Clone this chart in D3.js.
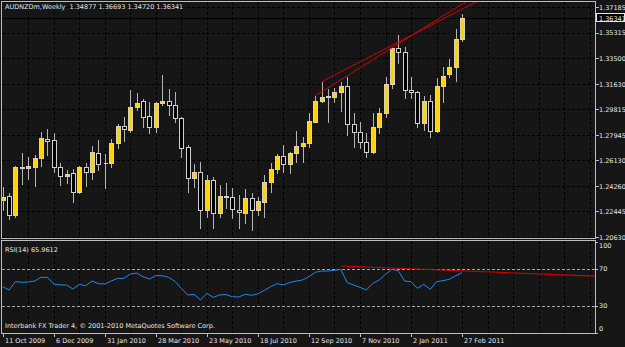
<!DOCTYPE html>
<html><head><meta charset="utf-8">
<script src="https://cdn.jsdelivr.net/npm/d3@7"></script>
<style>
html,body{margin:0;padding:0;background:#161616;overflow:hidden;}
svg{display:block;}
text{font-family:"DejaVu Sans",sans-serif;font-size:6.5px;fill:#e6e6e6;white-space:pre;}
</style></head><body>
<svg id="c" width="625" height="347"></svg>
<script>
// ---------- data ----------
const titleText = "AUDNZDm,Weekly  1.34877 1.36693 1.34720 1.36341";
const rsiTitle = "RSI(14) 65.9612";
const copyright = "Interbank FX Trader 4, \u00A9 2001-2010 MetaQuotes Software Corp.";

const open = [1.23272,1.2356,1.22192,1.25611,1.25575,1.25625,1.26316,1.27662,1.2759,1.25625,
1.25021,1.25193,1.23869,1.25669,1.25309,1.26676,1.25956,1.25956,1.27353,1.28598,
1.2831,1.29944,1.30398,1.29318,1.28505,1.30232,1.30376,1.3011,1.29196,1.27065,
1.24834,1.25309,1.22552,1.24711,1.22357,1.2356,1.23509,1.22552,1.22314,1.23437,
1.22552,1.23149,1.24546,1.25481,1.26439,1.25841,1.26633,1.27158,1.27353,1.28908,
1.30419,1.30736,1.30707,1.31067,1.31499,1.28742,1.28188,1.27468,1.26748,1.28505,
1.29555,1.31621,1.34191,1.33903,1.31225,1.31045,1.28792,1.30398,1.28238,1.31477,
1.32305,1.32823,1.34877];
const high = [1.24229,1.23754,1.25719,1.26676,1.26388,1.26511,1.28188,1.28361,1.28116,1.25956,
1.25431,1.25481,1.25719,1.25913,1.27158,1.2759,1.26561,1.27641,1.28742,1.29224,
1.31189,1.30995,1.3052,1.30347,1.30347,1.32269,1.3124,1.31067,1.29267,1.27231,
1.25863,1.26028,1.25071,1.24906,1.24351,1.24474,1.24114,1.23632,1.24042,1.23754,
1.23466,1.25071,1.25956,1.26583,1.27231,1.26748,1.2826,1.27785,1.29534,1.30758,
1.31787,1.3124,1.31312,1.31787,1.32147,1.29555,1.28908,1.28073,1.29512,1.29872,
1.32104,1.34263,1.35148,1.34285,1.32104,1.31117,1.30793,1.3083,1.32032,1.32809,
1.33399,1.35558,1.36693];
const low = [1.22552,1.21882,1.2207,1.24423,1.24762,1.24279,1.25719,1.26511,1.25309,1.24351,
1.24474,1.23149,1.23797,1.24279,1.24762,1.25431,1.24114,1.25625,1.26993,1.2754,
1.28188,1.2975,1.28548,1.28116,1.28188,1.3011,1.2939,1.28908,1.26388,1.23869,
1.24229,1.21235,1.2207,1.21235,1.22026,1.22674,1.21954,1.21235,1.21595,1.21112,
1.22192,1.22026,1.23869,1.25193,1.25265,1.25193,1.26028,1.26028,1.27051,1.2888,
1.30347,1.28908,1.30347,1.29699,1.2795,1.27065,1.26993,1.26388,1.26676,1.28116,
1.29224,1.31312,1.33111,1.30592,1.30592,1.28505,1.2831,1.27785,1.28188,1.30347,
1.32104,1.31837,1.3472];
const close = [1.23509,1.22192,1.25669,1.25539,1.25719,1.26273,1.27713,1.2754,1.25625,1.24999,
1.25143,1.23869,1.25669,1.25309,1.26748,1.25863,1.25913,1.27353,1.28598,1.28361,
1.29944,1.30275,1.29267,1.28505,1.30275,1.30376,1.30088,1.29152,1.26993,1.24834,
1.25309,1.22552,1.24711,1.22357,1.2356,1.23466,1.22602,1.22386,1.23437,1.22552,
1.232,1.24546,1.25503,1.2646,1.25841,1.26633,1.27158,1.27375,1.28922,1.30419,
1.30707,1.30686,1.31067,1.31499,1.28742,1.28188,1.27468,1.26748,1.28548,1.29555,
1.31621,1.34191,1.33903,1.31168,1.31024,1.28792,1.30398,1.28238,1.31477,1.32197,
1.32859,1.34839,1.36341];
const rsi = [50.7,47.1,56.2,55.5,55.8,56.9,60.9,60.9,53.7,52.6,
52.6,48.2,53.3,51.8,56.9,54.0,53.7,56.9,59.8,59.8,
64.6,65.6,61.6,59.1,62.7,62.7,60.9,56.6,48.9,41.7,
42.4,36.2,43.5,39.1,41.7,42.1,39.8,39.5,42.4,41.3,
43.1,46.7,50.7,54.0,52.6,55.3,56.8,58.0,61.6,66.4,
67.8,67.8,68.6,69.6,55.1,52.6,50.0,47.1,54.4,58.0,
64.2,69.6,68.2,56.9,56.2,48.9,53.3,47.8,56.2,57.3,
58.7,62.7,65.9612];

// trend lines: [bar index, value] anchor pairs (rays extended to the right)
const trendA = [[49, 1.3078], [72, 1.3738]];
const trendB = [[50, 1.31787], [72, 1.37012]];
const rsiTrend = [[53, 73.3], [72, 68.0]];

const priceTicks = [1.37185,1.35315,1.33500,1.31630,1.29815,1.27945,1.26130,1.24260,1.22445,1.20630];
const rsiTicks = [100,70,30,0];
const rsiLevels = [70,30];
const dateTickBars = [0,8,16,24,32,40,48,56,64,72];
const dateTickLabels = ["11 Oct 2009","6 Dec 2009","31 Jan 2010","28 Mar 2010","23 May 2010",
  "18 Jul 2010","12 Sep 2010","7 Nov 2010","2 Jan 2011","27 Feb 2011"];

// ---------- layout ----------
const W = 625, H = 347;
const M = {x0: 2, x1: 595, y0: 2, y1: 238};
const S = {x0: 2, x1: 595, y0: 241, y1: 333};
const BG = "#161616";

const svg = d3.select("#c");
svg.append("rect").attr("width", W).attr("height", H).attr("fill", BG);

const x = d3.scaleLinear().domain([0, 72]).range([2.7, 462.06]);
const y = d3.scaleLinear().domain([1.2063, 1.37185]).range([236.7, 6.7]);
const yR = d3.scaleLinear().domain([0, 100]).range([333.2, 241.5]);
const px = v => Math.round(v) + 0.5;

const defs = svg.append("defs");
defs.append("clipPath").attr("id", "cm").append("rect")
  .attr("x", M.x0).attr("y", M.y0).attr("width", M.x1 - M.x0).attr("height", M.y1 - M.y0);
defs.append("clipPath").attr("id", "cs").append("rect")
  .attr("x", S.x0).attr("y", S.y0).attr("width", S.x1 - S.x0).attr("height", S.y1 - S.y0);

// ---------- grids ----------
const gridBars = d3.range(4, Math.floor(x.invert(M.x1)) + 1, 4);
const gM = svg.append("g").attr("clip-path", "url(#cm)").attr("shape-rendering", "crispEdges");
gM.selectAll("line.v").data(gridBars).join("line").attr("class", "v")
  .attr("x1", d => px(x(d))).attr("x2", d => px(x(d))).attr("y1", M.y0).attr("y2", M.y1)
  .attr("stroke", "#000").attr("stroke-dasharray", "3,2");
gM.selectAll("line.h").data(priceTicks).join("line").attr("class", "h")
  .attr("x1", M.x0).attr("x2", M.x1).attr("y1", d => px(y(d))).attr("y2", d => px(y(d)))
  .attr("stroke", "#000").attr("stroke-dasharray", "3,2");

const gS = svg.append("g").attr("clip-path", "url(#cs)").attr("shape-rendering", "crispEdges");
gS.selectAll("line.v").data(gridBars).join("line").attr("class", "v")
  .attr("x1", d => px(x(d))).attr("x2", d => px(x(d))).attr("y1", S.y0).attr("y2", S.y1)
  .attr("stroke", "#000").attr("stroke-dasharray", "3,2");
gS.selectAll("line.lvl").data(rsiLevels).join("line").attr("class", "lvl")
  .attr("x1", S.x0).attr("x2", S.x1).attr("y1", d => px(yR(d))).attr("y2", d => px(yR(d)))
  .attr("stroke", "#a6a6a6").attr("stroke-dasharray", "3,2");

// bid line
const last = close.length - 1;
gM.append("line").attr("x1", M.x0).attr("x2", M.x1)
  .attr("y1", px(y(close[last]))).attr("y2", px(y(close[last])))
  .attr("stroke", "#000");

// ---------- candles ----------
const bars = d3.range(open.length).map(i => ({i, o: open[i], h: high[i], l: low[i], c: close[i]}));
const gC = svg.append("g").attr("clip-path", "url(#cm)").attr("shape-rendering", "crispEdges");
gC.selectAll("line.wick").data(bars).join("line").attr("class", "wick")
  .attr("x1", d => px(x(d.i))).attr("x2", d => px(x(d.i)))
  .attr("y1", d => Math.round(y(d.h))).attr("y2", d => Math.round(y(d.l)) + 1)
  .attr("stroke", "#b4b4b4");
gC.selectAll("path.body").data(bars).join("path").attr("class", "body")
  .attr("d", d => {
    const cx = Math.round(x(d.i));
    const t = Math.round(y(Math.max(d.o, d.c)));
    const b = Math.round(y(Math.min(d.o, d.c)));
    const h = Math.max(0, b - t);
    return `M${cx - 1.5},${t + 0.5}h4v${h}h-4Z`;
  })
  .attr("fill", d => d.c > d.o ? "#ffd200" : "#000")
  .attr("stroke", d => d.c > d.o ? "#d9d4b0" : "#cfcfcf");

// ---------- price trend lines ----------
function ray(anchors, xs, ys) {
  const [[b1, v1], [b2, v2]] = anchors;
  const slope = (v2 - v1) / (b2 - b1);
  const bEnd = x.invert(M.x1 + 2);
  return [[xs(b1), ys(v1)], [xs(bEnd), ys(v1 + slope * (bEnd - b1))]];
}
const gT = svg.append("g").attr("clip-path", "url(#cm)");
[trendA, trendB].forEach(t => {
  gT.append("path").attr("d", d3.line()(ray(t, x, y)))
    .attr("stroke", "#d60000").attr("stroke-width", 1).attr("fill", "none");
});

// ---------- RSI ----------
const gR = svg.append("g").attr("clip-path", "url(#cs)");
gR.append("path").datum(rsi)
  .attr("d", d3.line().x((d, i) => x(i)).y(d => yR(d)))
  .attr("fill", "none").attr("stroke", "#1e88f0").attr("stroke-width", 1);
gR.append("path").attr("d", d3.line()(ray(rsiTrend, x, yR)))
  .attr("stroke", "#d60000").attr("stroke-width", 1.1).attr("fill", "none");

// ---------- borders ----------
svg.append("rect").attr("x", M.x0 - 0.5).attr("y", M.y0 - 0.5)
  .attr("width", M.x1 - M.x0 + 1).attr("height", M.y1 - M.y0 + 1)
  .attr("fill", "none").attr("stroke", "#bdbdbd").attr("shape-rendering", "crispEdges");
svg.append("rect").attr("x", S.x0 - 0.5).attr("y", S.y0 - 0.5)
  .attr("width", S.x1 - S.x0 + 1).attr("height", S.y1 - S.y0 + 0.5)
  .attr("fill", "none").attr("stroke", "#bdbdbd").attr("shape-rendering", "crispEdges");

// ---------- price axis ----------
const pa = svg.append("g").attr("transform", `translate(${M.x1 + 0.5},0)`)
  .call(d3.axisRight(y).tickValues(priceTicks).tickSize(3).tickPadding(1).tickFormat(d3.format(".5f")));
pa.select(".domain").remove();
pa.selectAll(".tick line").attr("stroke", "#bdbdbd").attr("shape-rendering", "crispEdges");
pa.selectAll(".tick text").attr("fill", "#e6e6e6").attr("font-size", null).attr("font-family", null)
  .attr("dy", "2.3").attr("x", 3.5);

// bid label
const bidY = y(close[last]);
svg.append("rect").attr("x", 596.5).attr("y", Math.round(bidY) - 4.5).attr("width", 28).attr("height", 8)
  .attr("fill", "#000").attr("stroke", "#e6e6e6").attr("shape-rendering", "crispEdges");
svg.append("text").attr("x", 599).attr("y", bidY + 2.3).text(d3.format(".5f")(close[last]))
  .attr("fill", "#ffffff");

// ---------- RSI axis ----------
const ra = svg.append("g");
ra.selectAll("line").data(rsiTicks).join("line")
  .attr("x1", S.x1 + 1).attr("x2", S.x1 + 3)
  .attr("y1", d => px(Math.min(Math.max(yR(d), S.y0 + 0.5), S.y1 - 0.5)))
  .attr("y2", d => px(Math.min(Math.max(yR(d), S.y0 + 0.5), S.y1 - 0.5)))
  .attr("stroke", "#bdbdbd").attr("shape-rendering", "crispEdges");
ra.selectAll("text").data(rsiTicks).join("text")
  .attr("x", 599)
  .attr("y", d => Math.min(Math.max(yR(d), 245.8), 328.6) + 2.4)
  .text(d => d);

// ---------- date axis ----------
const da = svg.append("g").attr("transform", `translate(0,${S.y1 + 0.5})`)
  .call(d3.axisBottom(x).tickValues(dateTickBars).tickSize(3).tickFormat((d, k) => dateTickLabels[k]));
da.select(".domain").remove();
da.selectAll(".tick").attr("transform", d => `translate(${px(x(d))},0)`);
da.selectAll(".tick line").attr("stroke", "#bdbdbd").attr("shape-rendering", "crispEdges");
da.selectAll(".tick text").attr("fill", "#e6e6e6").attr("font-size", null).attr("font-family", null)
  .attr("text-anchor", "start").attr("x", 1.5).attr("y", 9.3).attr("dy", null);

// ---------- labels ----------
svg.append("text").attr("x", 5).attr("y", 9).text(titleText).attr("fill", "#ffffff");
svg.append("text").attr("x", 5).attr("y", 251.5).text(rsiTitle).attr("fill", "#ffffff");
svg.append("text").attr("x", 5).attr("y", 328).text(copyright).attr("fill", "#ffffff");
</script>
</body></html>
